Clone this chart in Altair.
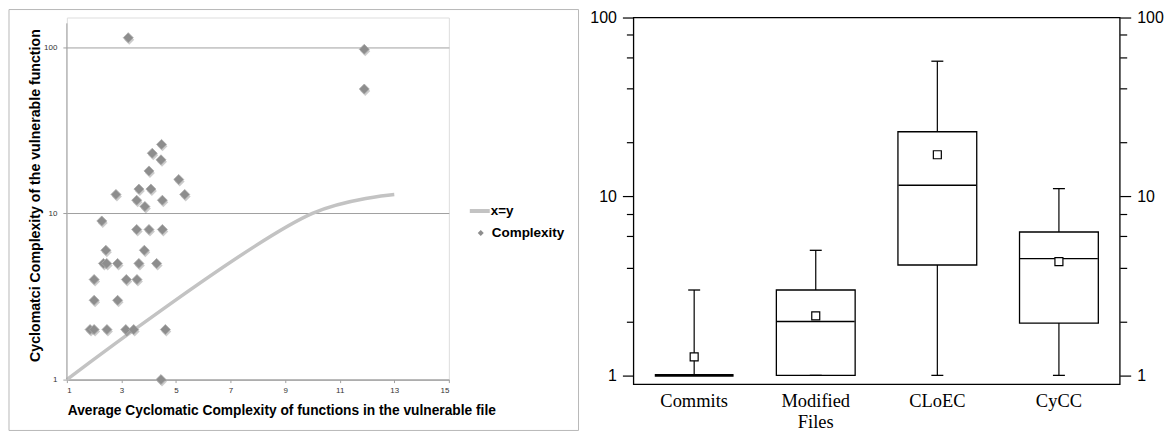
import altair as alt
import pandas as pd

# ---------------- Left panel data ----------------
avg_cc = [3.25, 4.47, 4.13, 4.45, 4.01, 5.10, 2.80, 3.64, 4.08, 5.32, 3.56, 4.50, 3.86,
          2.28, 3.56, 4.01, 4.50, 2.43, 3.84, 2.34, 2.46, 2.86, 3.64, 4.29, 2.00, 3.18,
          3.57, 2.00, 2.86, 1.85, 2.00, 2.47, 3.16, 3.45, 4.61, 4.45, 11.9, 11.9]
func_cc = [114, 26, 23, 21, 18, 16, 13, 14, 14, 13, 12, 12, 11,
           9, 8, 8, 8, 6, 6, 5, 5, 5, 5, 5, 4, 4,
           4, 3, 3, 2, 2, 2, 2, 2, 2, 1, 97, 56]
xy_x = [1, 10, 13]
xy_y = [1, 10, 13]
legend_labels = ["x=y", "Complexity"]
left_x_ticks = [1, 3, 5, 7, 9, 11, 13, 15]
left_y_ticks = [1, 10, 100]
left_axis_top = 139

# ---------------- Right panel data ----------------
cats = ["Commits", "Modified Files", "CLoEC", "CyCC"]
lo = [1, 1, 1, 1]
q1 = [1, 1, 4.14, 1.96]
med = [1, 2, 11.55, 4.49]
q3 = [1, 3, 23, 6.33]
hi = [3, 5, 57, 11.06]
mean = [1.27, 2.15, 17.1, 4.32]
right_ticks = [1, 2, 4, 6, 8, 10, 20, 40, 60, 80, 100]

FONT = "Liberation Sans"
AXC = "#a0a0a0"

# ================= LEFT CHART =================
scat = pd.DataFrame({"x": avg_cc, "y": func_cc})
xyline = pd.DataFrame({"x": xy_x, "y": xy_y})

xs = alt.X("x:Q", scale=alt.Scale(domain=[1, 15], nice=False, zero=False),
           axis=alt.Axis(values=left_x_ticks, grid=False,
                         title="Average Cyclomatic Complexity of functions in the vulnerable file",
                         titleFont=FONT, titleFontSize=13.8, titleFontWeight="bold",
                         titleColor="black", titleX=215, titleY=31, titleBaseline="middle",
                         labelFont=FONT, labelFontSize=8, labelColor="#333333",
                         tickSize=3, tickColor=AXC, domainColor=AXC,
                         labelPadding=4))
ys = alt.Y("y:Q", scale=alt.Scale(type="log", domain=[1, 150.7], nice=False),
           axis=alt.Axis(values=left_y_ticks, format="d", grid=True, gridColor=AXC,
                         domain=False,
                         title="Cyclomatci Complexity of the vulnerable function",
                         titleFont=FONT, titleFontSize=14.2, titleFontWeight="bold",
                         titleColor="black", titleX=-31, titleY=178, titleBaseline="middle",
                         labelFont=FONT, labelFontSize=8, labelColor="#333333",
                         tickSize=4, tickColor=AXC,
                         labelPadding=6))

one = pd.DataFrame({"k": [0]})
border = alt.Chart(one).mark_rect(fill="white", fillOpacity=0, stroke="#b8b8b8",
                                  strokeWidth=1).encode(
    x=alt.value(-58), x2=alt.value(513), y=alt.value(-8), y2=alt.value(414))

ydomain = alt.Chart(one).mark_rule(color=AXC, strokeWidth=1).encode(
    x=alt.value(0), y=alt.Y(datum=left_axis_top, scale=alt.Scale(type="log", domain=[1, 150.7], nice=False)),
    y2=alt.Y2(datum=1))

line = alt.Chart(xyline).mark_line(interpolate="catmull-rom", color="#c3c3c3",
                                   strokeWidth=3.5).encode(x=xs, y=ys)
shadow = alt.Chart(scat).mark_point(shape="diamond", filled=True, size=100, color="black",
                                    opacity=0.2, xOffset=1, yOffset=2).encode(x=xs, y=ys)
pts = alt.Chart(scat).mark_point(shape="diamond", filled=True, size=100, fill="#8d8d8d",
                                 stroke="#a9a9a9", strokeWidth=0.8, opacity=1).encode(x=xs, y=ys)

leg1_df = pd.DataFrame({"label": [legend_labels[0]]})
leg2_df = pd.DataFrame({"label": [legend_labels[1]]})
leg_line = alt.Chart(leg1_df).mark_rule(color="#c3c3c3", strokeWidth=4).encode(
    x=alt.value(404), x2=alt.value(424), y=alt.value(194))
leg_text1 = alt.Chart(leg1_df).mark_text(align="left", baseline="middle", font=FONT,
                                         fontSize=13.5, fontWeight="bold", color="black").encode(
    text="label:N", x=alt.value(425), y=alt.value(194))
leg_pt = alt.Chart(leg2_df).mark_point(shape="diamond", filled=True, size=36, color="#8d8d8d",
                                       opacity=1).encode(x=alt.value(415), y=alt.value(216))
leg_text2 = alt.Chart(leg2_df).mark_text(align="left", baseline="middle", font=FONT,
                                         fontSize=13.5, fontWeight="bold", color="black").encode(
    text="label:N", x=alt.value(426), y=alt.value(216))

left = alt.layer(border, line, shadow, pts, ydomain, leg_line, leg_text1, leg_pt, leg_text2).properties(
    width=383, height=363)

# ================= RIGHT CHART =================
box = pd.DataFrame({"cat": cats, "lo": lo, "q1": q1, "med": med, "q3": q3, "hi": hi, "mean": mean})
yscale = alt.Scale(type="log", domain=[0.893, 100], nice=False)
major_test = "datum.value == 1 || datum.value == 10 || datum.value == 100"


def yaxis(orient):
    return alt.Axis(orient=orient, values=right_ticks, format="d",
                    labelExpr="(" + major_test + ") ? datum.label : ''",
                    tickSize={"condition": {"test": major_test, "value": 11}, "value": 7},
                    tickColor="black", tickWidth=1.2, domain=False, grid=False,
                    labelFont=FONT, labelFontSize=16, labelColor="black", labelPadding=6,
                    labelOverlap=False, labelFlush=False, title=None)


xb = alt.X("cat:N", sort=cats, scale=alt.Scale(paddingInner=0, paddingOuter=0),
           axis=alt.Axis(title=None, ticks=False, domain=False, labelAngle=0,
                         labelFont="Liberation Serif", labelFontSize=18.5, labelColor="black",
                         labelPadding=7, labelLineHeight=21,
                         labelExpr="datum.label == 'Modified Files' ? ['Modified', 'Files'] : datum.label"))

whisk = alt.Chart(box).mark_rule(color="black", strokeWidth=1.2).encode(
    x=xb, y=alt.Y("lo:Q", scale=yscale, axis=yaxis("left")), y2="hi:Q")
boxes = alt.Chart(box).mark_bar(size=79, fill="white", stroke="black").encode(
    x=xb, y=alt.Y("q1:Q", scale=yscale, axis=yaxis("right")), y2="q3:Q",
    strokeWidth=alt.condition("datum.q1 == datum.q3", alt.value(2.6), alt.value(1.3)))
cap_lo = alt.Chart(box).mark_tick(size=12, thickness=1.3, color="black", opacity=1).encode(
    x=xb, y=alt.Y("lo:Q", scale=yscale, axis=None))
cap_hi = alt.Chart(box).mark_tick(size=12, thickness=1.3, color="black", opacity=1).encode(
    x=xb, y=alt.Y("hi:Q", scale=yscale, axis=None))
median = alt.Chart(box).mark_tick(size=78, thickness=1.3, color="black", opacity=1).encode(
    x=xb, y=alt.Y("med:Q", scale=yscale, axis=None))
means = alt.Chart(box).mark_point(shape="square", size=64, filled=True, fill="white",
                                  stroke="black", strokeWidth=1.2, opacity=1).encode(
    x=xb, y=alt.Y("mean:Q", scale=yscale, axis=None))

right = alt.layer(whisk, boxes, cap_lo, cap_hi, median, means).properties(
    width=487.6, height=367.6,
    view=alt.ViewBackground(stroke="black", strokeWidth=1.3)
).resolve_axis(y="independent")

chart = alt.hconcat(left, right, spacing=9).properties(padding=0).configure_view(
    stroke="transparent").configure(font=FONT)

chart.save("out.html", embed_options={"renderer": "svg", "actions": False})
